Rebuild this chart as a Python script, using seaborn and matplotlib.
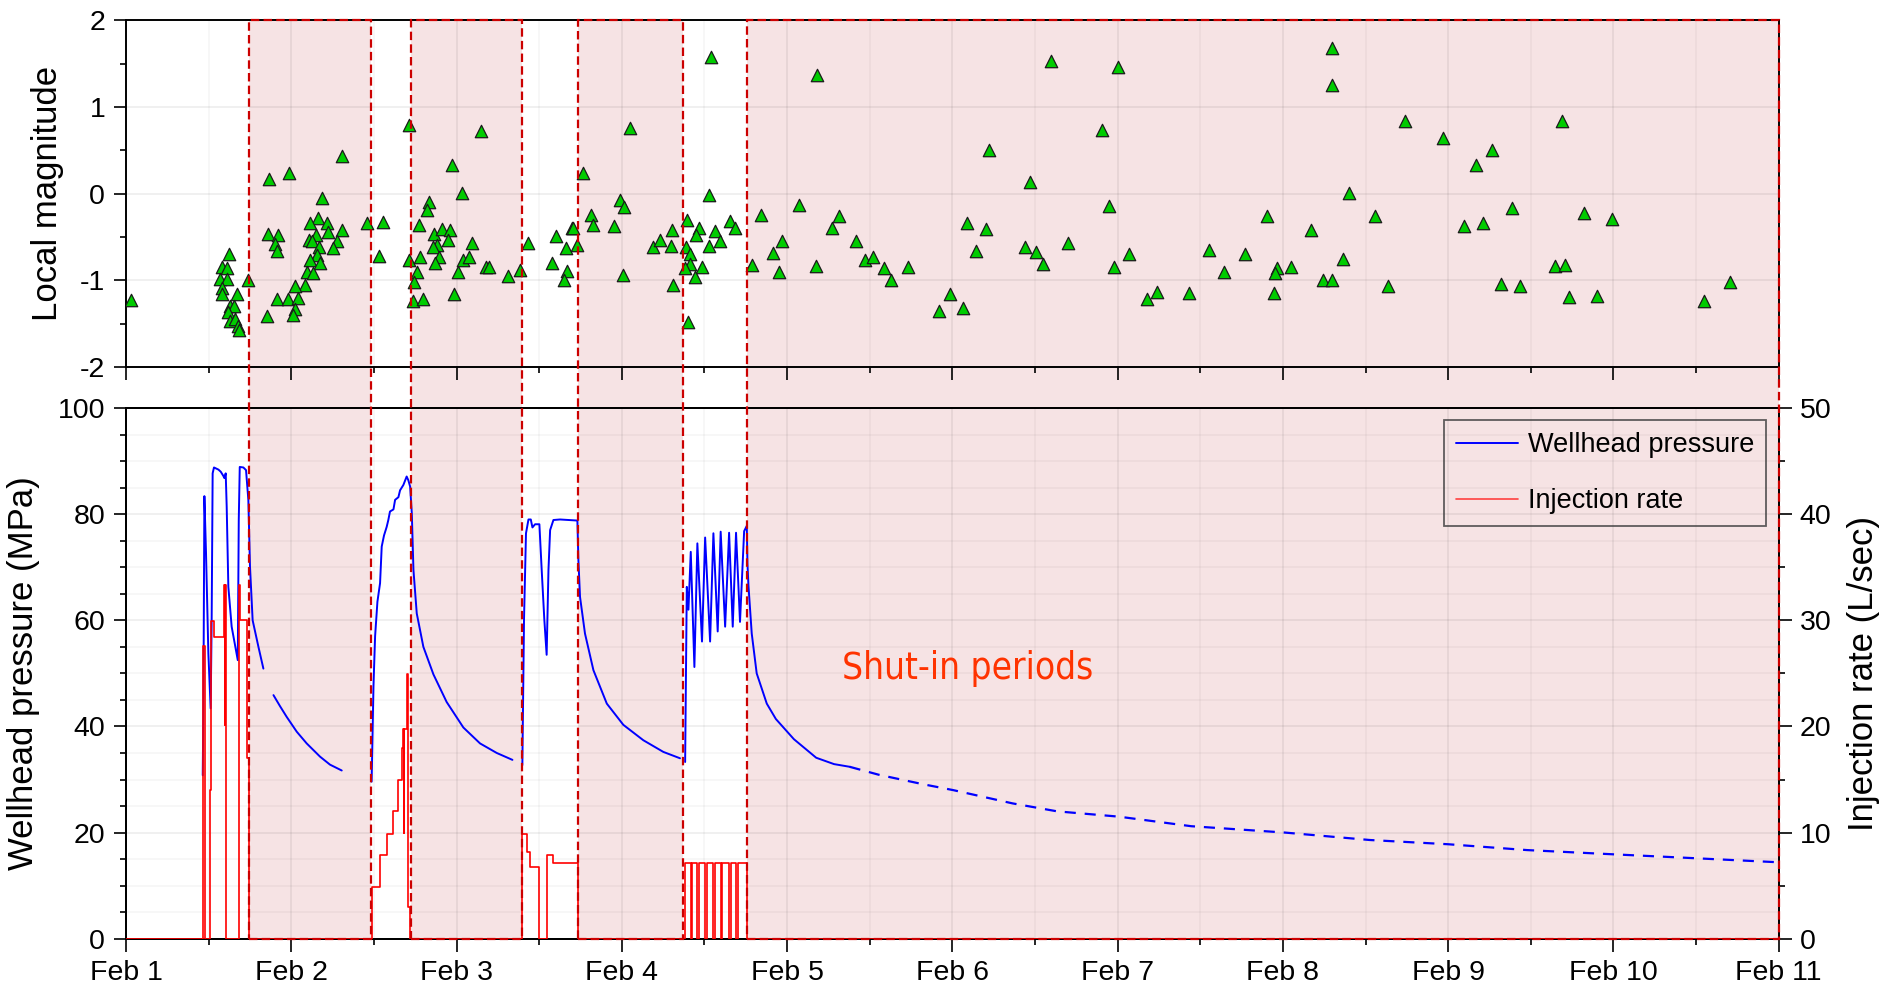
import numpy as np
import pandas as pd
import matplotlib
matplotlib.use("Agg")
import matplotlib.pyplot as plt
import matplotlib.transforms as mtransforms
from matplotlib import font_manager
from matplotlib.patches import Rectangle
from matplotlib.lines import Line2D
from matplotlib.ticker import MultipleLocator, FixedLocator
import seaborn as sns

# ---------------- data (x = days since Feb 1 00:00) ----------------
date_labels = ["Feb 1", "Feb 2", "Feb 3", "Feb 4", "Feb 5", "Feb 6",
               "Feb 7", "Feb 8", "Feb 9", "Feb 10", "Feb 11"]

shutin_start = [0.745, 1.725, 2.737, 3.757]
shutin_end = [1.480, 2.395, 3.373, 10.0]

event_day = [
    0.027,
    0.625, 0.579, 0.613, 0.569, 0.609, 0.583, 0.579, 0.674, 0.629, 0.656, 0.619, 0.629, 0.660, 0.680, 0.686, 0.740,
    0.851, 0.912, 0.861, 0.922, 0.902, 0.912, 0.865, 0.986, 1.309, 1.184, 1.164, 1.114, 1.214, 1.224, 1.305, 1.456,
    1.150, 1.109, 1.123, 1.170, 1.275, 1.255, 1.158, 1.113, 1.174, 1.093, 1.130, 1.083, 1.023, 0.982, 1.043, 1.023, 1.009,
    1.553, 1.533, 1.710, 1.714,
    2.148, 1.971, 2.031, 1.835, 1.819, 1.775, 1.779, 1.763, 1.743, 1.735, 1.795, 1.866, 1.910, 1.960, 1.950, 1.880,
    1.860, 1.896, 1.870, 1.985, 2.011, 2.041, 2.073, 2.092, 2.178, 2.194, 2.309, 2.384,
    2.430, 2.602, 2.697, 2.707, 2.660, 2.727, 2.576, 2.671, 2.652,
    2.763, 3.050, 2.989, 3.013, 2.812, 2.824, 2.955, 3.005, 3.187, 3.231, 3.302, 3.298, 3.312,
    3.397, 3.403, 3.389, 3.413, 3.413, 3.385, 3.443, 3.483, 3.469, 3.451, 3.530, 3.541, 3.563, 3.530, 3.596, 3.655, 3.685,
    3.786, 3.842, 3.967, 3.917, 3.953, 4.074, 4.175, 4.178, 4.316, 4.270, 4.417, 4.472, 4.522, 4.587, 4.627, 4.729,
    4.921, 4.986, 5.062, 5.089, 5.205, 5.143, 5.224, 5.440, 5.467, 5.507, 5.548, 5.596, 5.702, 5.905, 5.948, 5.980,
    6.002, 6.069, 6.177, 6.236, 6.434, 6.555, 6.642, 6.771, 6.906, 6.966, 6.953, 6.945, 7.052, 7.169, 7.244, 7.298,
    7.363, 7.298, 7.298, 7.398, 7.558, 7.633, 7.739, 7.968, 8.095, 8.170, 8.208, 8.267, 8.317, 8.385, 8.437, 8.648,
    8.691, 8.707, 8.734, 8.820, 8.899, 8.992, 9.547, 9.706,
]
event_ml = [
    -1.23,
    -0.69, -0.85, -0.86, -0.98, -0.98, -1.09, -1.16, -1.16, -1.30, -1.30, -1.36, -1.47, -1.44, -1.53, -1.57, -0.99,
    -1.41, -1.22, -0.46, -0.48, -0.58, -0.66, 0.17, 0.24, 0.43, -0.05, -0.28, -0.34, -0.34, -0.44, -0.42, -0.34,
    -0.48, -0.53, -0.54, -0.62, -0.54, -0.63, -0.71, -0.77, -0.80, -0.90, -0.92, -1.05, -1.07, -1.21, -1.20, -1.33, -1.40,
    -0.33, -0.72, 0.79, -0.76,
    0.72, 0.33, 0.01, -0.10, -0.19, -0.36, -0.73, -0.90, -1.02, -1.24, -1.22, -0.46, -0.41, -0.42, -0.53, -0.59,
    -0.62, -0.73, -0.80, -1.16, -0.90, -0.76, -0.73, -0.57, -0.84, -0.84, -0.95, -0.88,
    -0.57, -0.49, -0.40, -0.39, -0.63, -0.59, -0.80, -0.89, -1.00,
    0.24, 0.76, -0.07, -0.15, -0.25, -0.36, -0.37, -0.94, -0.61, -0.53, -0.42, -0.60, -1.05,
    -0.30, -1.48, -0.61, -0.69, -0.81, -0.86, -0.96, -0.85, -0.40, -0.48, -0.02, 1.58, -0.43, -0.60, -0.54, -0.31, -0.40,
    -0.82, -0.25, -0.54, -0.68, -0.90, -0.13, -0.83, 1.37, -0.26, -0.39, -0.54, -0.77, -0.73, -0.86, -1.00, -0.85,
    -1.35, -1.16, -1.32, -0.34, -0.41, -0.66, 0.51, -0.62, 0.14, -0.67, -0.81, 1.53, -0.57, 0.73, -0.14, -0.85,
    1.46, -0.70, -1.22, -1.13, -1.15, -0.65, -0.90, -0.70, -0.26, -0.86, -0.92, -1.14, -0.85, -0.42, -1.00, -1.00,
    -0.75, 1.68, 1.26, 0.01, -0.26, -1.07, 0.84, 0.64, -0.37, 0.33, -0.34, 0.50, -1.04, -0.17, -1.06, -0.83,
    0.84, -0.82, -1.19, -0.22, -1.18, -0.29, -1.24, -1.02,
]

# wellhead pressure (MPa), measured segments
p1_t = [0.464, 0.468, 0.474, 0.484, 0.498, 0.512, 0.518, 0.524, 0.532, 0.559, 0.573, 0.589, 0.595, 0.603,
        0.609, 0.619, 0.639, 0.676, 0.682, 0.688, 0.710, 0.726, 0.740, 0.750, 0.766, 0.801, 0.831]
p1_v = [30.8, 44.3, 83.4, 72.6, 53.8, 43.4, 60.0, 87.7, 88.8, 88.4, 88.0, 87.2, 86.8, 87.7,
        81.4, 66.3, 58.8, 52.5, 78.9, 88.9, 88.8, 88.3, 82.7, 70.1, 60.0, 55.0, 50.9]
p2_t = [0.892, 0.932, 0.972, 1.033, 1.093, 1.174, 1.234, 1.305]
p2_v = [45.9, 43.8, 41.8, 39.0, 36.8, 34.3, 32.8, 31.7]
p3_t = [1.486, 1.497, 1.507, 1.521, 1.537, 1.547, 1.561, 1.577, 1.587, 1.597, 1.618, 1.628, 1.648, 1.658,
        1.678, 1.698, 1.708, 1.719, 1.729, 1.739, 1.759, 1.799, 1.860, 1.940, 2.041, 2.142, 2.243, 2.338]
p3_v = [29.6, 47.5, 57.0, 63.5, 67.0, 73.9, 76.0, 77.6, 78.9, 80.5, 80.9, 82.7, 83.2, 84.5,
        85.5, 87.1, 86.4, 85.2, 80.2, 69.5, 61.3, 55.0, 49.8, 44.6, 39.8, 36.8, 35.0, 33.7]
p4_t = [2.398, 2.408, 2.420, 2.435, 2.449, 2.459, 2.475, 2.501, 2.515, 2.531, 2.545, 2.556, 2.566, 2.586,
        2.626, 2.731, 2.737, 2.747, 2.777, 2.828, 2.909, 3.009, 3.130, 3.251, 3.352]
p4_v = [32.7, 60.1, 76.4, 79.0, 79.0, 77.5, 78.1, 78.1, 69.5, 60.1, 53.5, 69.5, 77.0, 78.9,
        79.0, 78.8, 71.4, 64.4, 57.5, 50.6, 44.3, 40.3, 37.4, 35.2, 34.0]
p5_t = [3.383, 3.393, 3.403, 3.417, 3.439, 3.457, 3.485, 3.504, 3.534, 3.554, 3.580, 3.598, 3.625, 3.649,
        3.671, 3.691, 3.715, 3.740, 3.756, 3.760, 3.766, 3.786, 3.816, 3.877, 3.932, 4.041, 4.176, 4.284, 4.378]
p5_v = [33.3, 66.3, 62.0, 72.9, 51.2, 74.5, 56.0, 75.6, 56.0, 76.4, 57.9, 76.7, 58.8, 76.5,
        58.8, 76.5, 59.7, 76.8, 77.8, 70.7, 66.6, 57.5, 50.0, 44.3, 41.4, 37.6, 34.1, 32.9, 32.4]
# extrapolated pressure decline (dashed)
pext_t = [4.378, 4.554, 4.824, 5.005, 5.364, 5.634, 6.007, 6.445, 7.012, 7.525, 8.000, 8.477, 9.000, 9.471, 10.0]
pext_v = [32.4, 30.9, 29.1, 28.0, 25.5, 24.0, 23.0, 21.2, 20.0, 18.6, 17.8, 16.7, 15.9, 15.2, 14.4]

# injection rate (L/sec), value holds from each time until the next
inj_t = [0.000, 0.463, 0.466, 0.478, 0.510, 0.514, 0.535, 0.590, 0.598, 0.601, 0.606, 0.681, 0.688, 0.731, 0.745,
         1.487, 1.537, 1.577, 1.618, 1.648, 1.668, 1.678, 1.681, 1.684, 1.697, 1.708, 1.716,
         2.397, 2.429, 2.445, 2.501, 2.545, 2.586, 2.737,
         3.385, 3.417, 3.427, 3.457, 3.467, 3.504, 3.514, 3.554, 3.564, 3.598, 3.608, 3.649, 3.659,
         3.691, 3.701, 3.757, 10.0]
inj_q = [0.0, 13.7, 27.6, 0.0, 14.0, 29.9, 28.4, 33.3, 20.1, 33.3, 0.0, 33.3, 30.0, 17.0, 0.0,
         4.9, 7.9, 9.9, 12.0, 15.0, 18.0, 19.8, 10.0, 19.8, 24.9, 3.0, 0.0,
         9.9, 8.2, 6.8, 0.0, 7.9, 7.1, 0.0,
         7.1, 0.0, 7.1, 0.0, 7.1, 0.0, 7.1, 0.0, 7.1, 0.0, 7.1, 0.0, 7.1,
         0.0, 7.1, 0.0, 0.0]

# ---------------- styling ----------------
sns.set_theme(style="ticks")
plt.rcParams["font.family"] = ["Liberation Sans", "DejaVu Sans"]
plt.rcParams["axes.unicode_minus"] = False
plt.rcParams["axes.edgecolor"] = "black"
plt.rcParams["xtick.color"] = "black"
plt.rcParams["ytick.color"] = "black"
plt.rcParams["text.color"] = "black"
plt.rcParams["axes.labelcolor"] = "black"

BLUE = "#0000FF"
RED = "#FF0000"
GREEN = "#00CC00"
SHADE = "#F6E3E4"
EDGE = "#CC0000"
TICK_FS = 20.5
LABEL_FS = 25

# condensed font for the annotation, if one is installed
_fonts = font_manager.fontManager.ttflist
_names = {f.name for f in _fonts}
if "Liberation Sans Narrow" in _names:
    note_kw = dict(family="Liberation Sans Narrow", fontsize=28)
elif any(f.name == "DejaVu Sans" and "condensed" in str(f.stretch) for f in _fonts):
    note_kw = dict(family="DejaVu Sans", fontstretch="condensed", fontsize=26.5)
else:
    note_kw = dict(family="Liberation Sans", fontsize=24.5)

fig = plt.figure(figsize=(18.87, 9.88), dpi=100)
ax_top = fig.add_axes([0.0668, 0.6285, 0.8758, 0.3508])
ax_bot = fig.add_axes([0.0668, 0.0499, 0.8758, 0.5371])
ax_rate = ax_bot.twinx()
for a in (ax_top, ax_bot):
    a.set_facecolor("none")
ax_rate.patch.set_visible(False)

xmin, xmax = 0, len(date_labels) - 1

# ---- top: local magnitude ----
ev = pd.DataFrame({"day": event_day, "ml": event_ml})
sns.scatterplot(data=ev, x="day", y="ml", ax=ax_top, marker="^", s=80,
                color=GREEN, edgecolor="#1a1a1a", linewidth=0.9, zorder=3, legend=False)
ax_top.set_xlim(xmin, xmax)
ax_top.set_ylim(-2, 2)
ax_top.yaxis.set_major_locator(MultipleLocator(1))
ax_top.yaxis.set_minor_locator(MultipleLocator(0.5))
ax_top.xaxis.set_major_locator(MultipleLocator(1))
ax_top.xaxis.set_minor_locator(MultipleLocator(0.5))
ax_top.set_xticklabels([])
ax_top.set_xlabel("")
ax_top.set_ylabel("Local magnitude", fontsize=LABEL_FS)
ax_top.grid(True, which="major", axis="both", color="black", alpha=0.07, lw=1.2)
ax_top.grid(True, which="minor", axis="x", color="black", alpha=0.04, lw=1.2)

# ---- bottom: pressure + injection ----
segs = []
for i, (tt, vv) in enumerate([(p1_t, p1_v), (p2_t, p2_v), (p3_t, p3_v), (p4_t, p4_v), (p5_t, p5_v)]):
    segs.append(pd.DataFrame({"day": tt, "p": vv, "seg": i}))
pres = pd.concat(segs, ignore_index=True)
sns.lineplot(data=pres, x="day", y="p", units="seg", estimator=None, sort=False,
             color=BLUE, lw=1.4, ax=ax_bot, zorder=3, legend=False)
ext = pd.DataFrame({"day": pext_t, "p": pext_v})
sns.lineplot(data=ext, x="day", y="p", estimator=None, sort=False, color=BLUE, lw=1.6,
             dashes=False, linestyle=(0, (5, 4)), ax=ax_bot, zorder=3, legend=False)

inj = pd.DataFrame({"day": inj_t, "q": inj_q})
sns.lineplot(data=inj, x="day", y="q", estimator=None, sort=False, color=RED, lw=1.2,
             drawstyle="steps-post", ax=ax_rate, zorder=3, legend=False)

ax_bot.set_xlim(xmin, xmax)
ax_bot.set_ylim(0, 100)
ax_rate.set_ylim(0, 50)
ax_bot.xaxis.set_major_locator(FixedLocator(np.arange(len(date_labels))))
ax_bot.set_xticklabels(date_labels)
ax_bot.xaxis.set_minor_locator(MultipleLocator(0.5))
ax_bot.yaxis.set_major_locator(MultipleLocator(20))
ax_bot.yaxis.set_minor_locator(MultipleLocator(5))
ax_rate.yaxis.set_major_locator(MultipleLocator(10))
ax_rate.yaxis.set_minor_locator(MultipleLocator(5))
ax_bot.set_xlabel("")
ax_rate.set_xlabel("")
ax_bot.set_ylabel("Wellhead pressure (MPa)", fontsize=LABEL_FS)
ax_rate.set_ylabel("Injection rate (L/sec)", fontsize=LABEL_FS)
ax_bot.grid(True, which="major", axis="both", color="black", alpha=0.07, lw=1.2)
ax_bot.grid(True, which="minor", axis="both", color="black", alpha=0.04, lw=1.2)
ax_rate.grid(False)

ax_bot.text(5.095, 50.9, "Shut-in periods", color="#FF3300",
            ha="center", va="center", zorder=4, **note_kw)

# ticks and spines
for a in (ax_top, ax_bot, ax_rate):
    for sp in a.spines.values():
        sp.set_visible(True)
        sp.set_color("black")
        sp.set_linewidth(1.4)
    a.tick_params(which="major", direction="out", length=9, width=1.2, labelsize=TICK_FS, pad=6)
    a.tick_params(which="minor", direction="out", length=4.5, width=1.2)
ax_top.tick_params(which="both", top=False, right=False)
ax_bot.tick_params(which="both", top=False, right=False)
ax_rate.tick_params(which="both", left=False, right=True, labelleft=False, labelright=True, top=False, bottom=False)

# label positions
ax_top.yaxis.label.set_va("center")
ax_bot.yaxis.label.set_va("center")
ax_rate.yaxis.label.set_va("center")
ax_top.yaxis.set_label_coords(-0.0475, 0.5)
ax_bot.yaxis.set_label_coords(-0.0620, 0.5)
ax_rate.yaxis.set_label_coords(1.0515, 0.5)

# legend
handles = [Line2D([], [], color=BLUE, lw=1.4), Line2D([], [], color="#FF4040", lw=1.2)]
leg = ax_rate.legend(handles, ["Wellhead pressure", "Injection rate"], loc="upper right",
                     fontsize=19.5, frameon=True, fancybox=False, handlelength=2.3,
                     handletextpad=0.35, labelspacing=1.1, borderpad=0.45, borderaxespad=0.45)
leg.get_frame().set_edgecolor("#3a3a3a")
leg.get_frame().set_linewidth(1.3)
leg.get_frame().set_facecolor("none")

# shut-in shading spanning both panels (x in data, y in figure coordinates)
blend = mtransforms.blended_transform_factory(ax_bot.transData, fig.transFigure)
y0 = ax_bot.get_position().y0
y1 = ax_top.get_position().y1
for s, e in zip(shutin_start, shutin_end):
    fig.add_artist(Rectangle((s, y0), e - s, y1 - y0, transform=blend,
                             facecolor=SHADE, edgecolor="none", zorder=-1))
    fig.add_artist(Rectangle((s, y0), e - s, y1 - y0, transform=blend, fill=False,
                             edgecolor=EDGE, lw=1.6, linestyle=(0, (3.8, 1.9)), zorder=5))

fig.savefig("out.png", dpi=100)
